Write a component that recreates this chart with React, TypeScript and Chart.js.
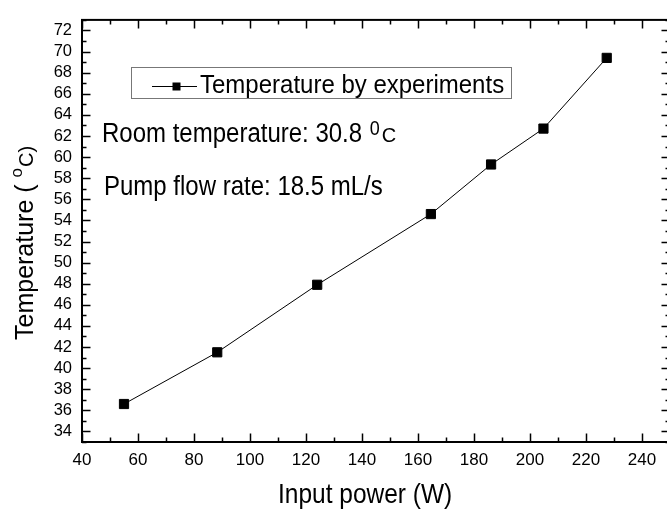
import React, { useEffect, useRef } from "react";
import { Chart, registerables } from "chart.js";

Chart.register(...registerables);

const seriesLabel = "Temperature by experiments";
const inputPowerW = [55, 88.3, 124, 164.6, 186.1, 204.8, 227.4];
const temperatureC = [36.6, 41.5, 47.9, 54.6, 59.3, 62.7, 69.4];
const xTickValues = [40, 60, 80, 100, 120, 140, 160, 180, 200, 220, 240];
const yTickValues = [34, 36, 38, 40, 42, 44, 46, 48, 50, 52, 54, 56, 58, 60, 62, 64, 66, 68, 70, 72];
const xMinorValues = [50, 70, 90, 110, 130, 150, 170, 190, 210, 230, 250];
const yMinorValues = [33, 35, 37, 39, 41, 43, 45, 47, 49, 51, 53, 55, 57, 59, 61, 63, 65, 67, 69, 71, 73];
const roomText = "Room temperature: 30.8 ";
const pumpText = "Pump flow rate: 18.5 mL/s";
const xTitle = "Input power (W)";
const yTitleMain = "Temperature ( ";
const yTitleSup = "o";
const yTitleEnd = "C)";

const FONT = '"Liberation Sans", Arial, Helvetica, sans-serif';

function txt(ctx: CanvasRenderingContext2D, s: string, x: number, y: number, size: number, sy = 1): number {
  ctx.save();
  ctx.font = `${size}px ${FONT}`;
  ctx.fillStyle = "#000";
  ctx.textAlign = "left";
  ctx.textBaseline = "alphabetic";
  ctx.translate(x, y);
  ctx.scale(1, sy);
  ctx.fillText(s, 0, 0);
  const w = ctx.measureText(s).width;
  ctx.restore();
  return w;
}

const decorPlugin = {
  id: "decor",
  afterDraw(chart: any) {
    const ctx: CanvasRenderingContext2D = chart.ctx;
    const a = chart.chartArea;
    const xs = chart.scales.x;
    const ys = chart.scales.y;
    ctx.save();
    ctx.strokeStyle = "#000";
    // inward ticks
    ctx.lineWidth = 1.5;
    const major = 8.5;
    const minor = 4.5;
    const drawX = (vals: number[], len: number) => {
      vals.forEach((v) => {
        const px = Math.round(xs.getPixelForValue(v)) + 0.5;
        ctx.beginPath();
        ctx.moveTo(px, a.bottom);
        ctx.lineTo(px, a.bottom - len);
        ctx.moveTo(px, a.top);
        ctx.lineTo(px, a.top + len);
        ctx.stroke();
      });
    };
    const drawY = (vals: number[], len: number) => {
      vals.forEach((v) => {
        const py = Math.round(ys.getPixelForValue(v)) + 0.5;
        ctx.beginPath();
        ctx.moveTo(a.left, py);
        ctx.lineTo(a.left + len, py);
        ctx.moveTo(a.right, py);
        ctx.lineTo(a.right - len, py);
        ctx.stroke();
      });
    };
    drawX(xTickValues, major);
    drawX(xMinorValues, minor);
    drawY(yTickValues, major);
    drawY(yMinorValues, minor);
    // frame
    ctx.lineWidth = 2;
    ctx.strokeRect(a.left, a.top, a.right - a.left, a.bottom - a.top);

    // legend box
    ctx.lineWidth = 1;
    ctx.strokeStyle = "#777";
    ctx.strokeRect(131.5, 67.5, 380, 31);
    ctx.strokeStyle = "#000";
    ctx.beginPath();
    ctx.moveTo(152, 86.5);
    ctx.lineTo(197, 86.5);
    ctx.stroke();
    ctx.fillStyle = "#000";
    ctx.fillRect(172.5, 82.5, 8, 8);
    txt(ctx, chart.data.datasets[0].label, 200, 93, 24, 1.06);

    // annotations
    const w1 = txt(ctx, roomText, 102, 142, 24, 1.15);
    const w2 = txt(ctx, "0", 102 + w1 + 1, 135, 18, 1.1);
    txt(ctx, "C", 102 + w1 + w2 + 3, 142, 20, 1.05);
    txt(ctx, pumpText, 104, 195, 24, 1.12);

    // x title
    txt(ctx, xTitle, 278, 503, 24.5, 1.15);

    // y title (rotated)
    ctx.save();
    ctx.translate(33, 340);
    ctx.rotate(-Math.PI / 2);
    const t1 = txt(ctx, yTitleMain, 0, 0, 25);
    const t2 = txt(ctx, yTitleSup, t1, -11, 17);
    txt(ctx, yTitleEnd, t1 + t2 + 1, 0, 20);
    ctx.restore();

    ctx.restore();
  },
};

export default function App() {
  const ref = useRef<HTMLCanvasElement | null>(null);
  useEffect(() => {
    if (!ref.current) return;
    const chart = new Chart(ref.current, {
      type: "scatter",
      data: {
        datasets: [
          {
            label: seriesLabel,
            data: inputPowerW.map((x, i) => ({ x, y: temperatureC[i] })),
            showLine: true,
            borderColor: "#000",
            borderWidth: 1,
            backgroundColor: "#000",
            pointStyle: "rect",
            pointRadius: 6.5,
            pointBorderWidth: 1,
            pointBorderColor: "#000",
            pointBackgroundColor: "#000",
          },
        ],
      },
      options: {
        responsive: false,
        devicePixelRatio: 1,
        animation: false,
        layout: { padding: { top: 10, right: 10, left: 0, bottom: 0 } },
        plugins: { legend: { display: false }, tooltip: { enabled: false } },
        scales: {
          x: {
            type: "linear",
            min: 40,
            max: 250,
            afterBuildTicks: (axis: any) => {
              axis.ticks = xTickValues.map((v) => ({ value: v }));
            },
            afterFit: (s: any) => {
              s.height = 68;
            },
            grid: { display: false, drawTicks: false },
            border: { display: false },
            ticks: {
              color: "#000",
              font: { size: 17, family: FONT },
              padding: 8,
              maxRotation: 0,
              autoSkip: false,
            },
          },
          y: {
            type: "linear",
            min: 33,
            max: 73,
            afterBuildTicks: (axis: any) => {
              axis.ticks = yTickValues.map((v) => ({ value: v }));
            },
            afterFit: (s: any) => {
              s.width = 82;
            },
            grid: { display: false, drawTicks: false },
            border: { display: false },
            ticks: {
              color: "#000",
              font: { size: 16.5, family: FONT },
              padding: 10,
              autoSkip: false,
            },
          },
        },
      },
      plugins: [decorPlugin],
    });
    return () => chart.destroy();
  }, []);
  return (
    <div
      style={{
        position: "fixed",
        left: 0,
        top: 0,
        width: 667,
        height: 510,
        overflow: "hidden",
        background: "#fff",
      }}
    >
      <canvas ref={ref} width={680} height={510} style={{ display: "block", width: 680, height: 510 }} />
    </div>
  );
}
